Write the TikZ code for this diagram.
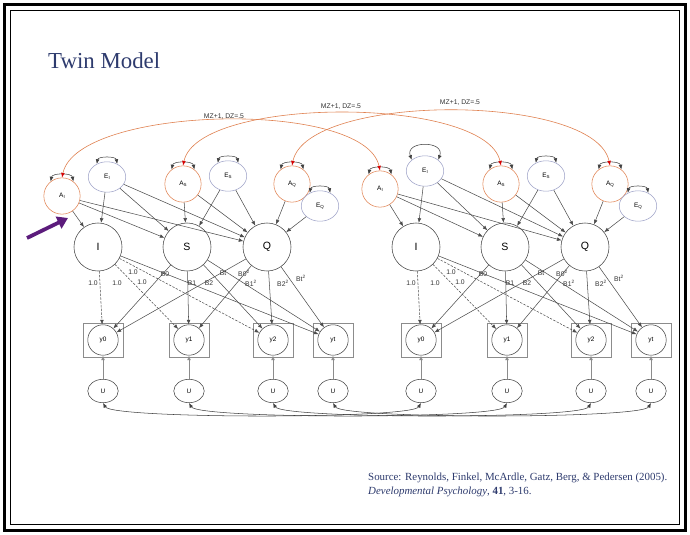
\documentclass[tikz,border=0pt]{standalone}
\usepackage{fontspec}
\setmainfont{Liberation Serif}
\setsansfont{Liberation Sans}
\usetikzlibrary{arrows.meta,shapes.geometric}

\definecolor{aorange}{HTML}{E0804F}
\definecolor{eblue}{HTML}{9EA2C8}
\definecolor{navy}{HTML}{2E3B6E}
\definecolor{pointer}{HTML}{5C1C7C}
\newcommand{\lsub}[1]{\raisebox{-0.35ex}{\fontsize{3.8}{4}\selectfont #1}}

\tikzset{
  >={Latex[length=4pt,width=3.2pt]},
  lbl/.style={font=\sffamily\fontsize{5.8}{6}\selectfont, text=black!80, inner sep=0.5pt},
  acirc/.style={circle, draw=aorange, line width=0.45pt, minimum size=31pt, inner sep=0pt,
    font=\sffamily\fontsize{5.5}{6}\selectfont},
  ecirc/.style={ellipse, draw=eblue, line width=0.45pt, minimum width=32pt, minimum height=26pt,
    inner sep=0pt, font=\sffamily\fontsize{5.5}{6}\selectfont},
  latent/.style={circle, draw=black!75, line width=0.45pt, minimum size=41pt, inner sep=0pt,
    font=\sffamily\fontsize{9}{10}\selectfont},
  obsbox/.style={rectangle, draw=black!45, line width=0.45pt, minimum width=34pt, minimum height=29pt},
  obs/.style={circle, draw=black!75, line width=0.45pt, minimum size=26pt, inner sep=0pt,
    font=\sffamily\fontsize{5.5}{6}\selectfont},
  uerr/.style={ellipse, draw=black!75, line width=0.45pt, minimum width=26pt, minimum height=20pt,
    inner sep=0pt, font=\sffamily\fontsize{5.5}{6}\selectfont},
  regarrow/.style={->, draw=black!70, line width=0.45pt},
  fixload/.style={regarrow, dash pattern=on 2pt off 1.2pt},
  varc/.style={<->, draw=black!75, line width=0.45pt},
  mzdz/.style={draw=aorange, line width=0.5pt,
    {Latex[length=4pt,width=3.2pt,color=red!85!black]}-{Latex[length=4pt,width=3.2pt,color=red!85!black]}},
  src/.style={text=navy, font=\fontsize{9.3}{11}\selectfont, inner sep=0pt}
}

\begin{document}
\begin{tikzpicture}[x=0.03cm,y=0.03cm]
  \useasboundingbox (0,0) rectangle (690,-535);
  \fill[white] (0,0) rectangle (690,-535);
  \draw[line width=3pt] (4.5,-4.5) rectangle (685.5,-530.5);
  \draw[line width=1pt] (10.5,-10.5) rectangle (679.5,-524.5);

  \node[text=navy, font=\fontsize{19.5}{22}\selectfont, anchor=base west, inner sep=0pt]
    (title) at (48,-69) {Twin Model};

  % the two twins
  \foreach \t/\dx/\ay/\ey in {L/0/-196/-177, R/318/-189/-171} {
    \node[acirc] (aI\t) at (\dx+62,\ay) {A\lsub{I}};
    \node[ecirc] (eI\t) at (\dx+107,\ey) {E\lsub{I}};
    \node[acirc] (aS\t) at (\dx+183,-184) {A\lsub{S}};
    \node[ecirc] (eS\t) at (\dx+228,-176) {E\lsub{S}};
    \node[acirc] (aQ\t) at (\dx+292,-184) {A\lsub{Q}};
    \node[ecirc] (eQ\t) at (\dx+320,-206) {E\lsub{Q}};

    \node[latent] (I\t) at (\dx+98,-247) {I};
    \node[latent] (S\t) at (\dx+187,-247) {S};
    \node[latent] (Q\t) at (\dx+267,-247) {Q};

    \foreach \k/\x in {0/103,1/189,2/273,t/333} {
      \node[obsbox] (b\k\t) at (\dx+\x,-340) {};
      \node[obs] (y\k\t) at (\dx+\x,-340) {y\k};
      \node[uerr] (u\k\t) at (\dx+\x,-391) {U};
      \draw[regarrow, draw=black!45] (u\k\t) -- (y\k\t);
    }

    \foreach \s/\d in {aI/I, eI/I, aI/S, eI/S, aS/S, eS/S,
                       aI/Q, eI/Q, aS/Q, eS/Q, aQ/Q, eQ/Q}
      \draw[regarrow] (\s\t) -- (\d\t);

    \foreach \k in {0,1,2}
      \draw[fixload] (I\t) -- (y\k\t);
    \draw[regarrow] (I\t) -- (yt\t);
    \foreach \g in {S,Q}
      \foreach \k in {0,1,2,t}
        \draw[regarrow] (\g\t) -- (y\k\t);

    \foreach \n/\x/\y/\txt in {a/93/-283/1.0, b/117/-283/1.0, c/142/-282/1.0, d/133/-272/1.0,
        e/165/-274/B0, f/192/-283/B1, g/209/-283/B2, h/223/-273/Bt,
        i/244/-273/B0\textsuperscript{2}, j/251/-283/B1\textsuperscript{2},
        k/283/-283/B2\textsuperscript{2}, m/301/-278/Bt\textsuperscript{2}}
      \node[lbl] (lab\n\t) at (\dx+\x,\y) {\txt};
  }

  % variances
  \foreach \n in {aIL,eIL,aSL,eSL,aQL,eQL,aIR,aSR,eSR,aQR,eQR}
    \draw[varc] (\n.128) to[out=80,in=100] (\n.52);
  \draw[varc] (eIR.140) to[out=110,in=70,looseness=2] (eIR.40);

  % twin covariances
  \draw[mzdz] (aIL.north) .. controls +(15,72) and +(-15,72) .. (aIR.north);
  \draw[mzdz] (aSL.north) .. controls +(15,70) and +(-15,70) .. (aSR.north);
  \draw[mzdz] (aQL.north) .. controls +(15,73) and +(-15,73) .. (aQR.north);
  \node[lbl] (mz1) at (224,-117) {MZ+1, DZ=.5};
  \node[lbl] (mz2) at (341,-107) {MZ+1, DZ=.5};
  \node[lbl] (mz3) at (460,-103) {MZ+1, DZ=.5};

  \foreach \k in {0,1,2,t}
    \draw[varc] (u\k L.south) to[out=-60,in=-120,looseness=0.15] (u\k R.south);

  \coordinate (ptail) at (27,-238);
  \coordinate (ptip) at (68,-218);
  \draw[draw=pointer, line width=3.2pt, -{Triangle[length=9pt,width=11pt]}] (ptail) -- (ptip);

  \node[src, anchor=base west] (src1) at (368,-480)
    {Source: Reynolds, Finkel, McArdle, Gatz, Berg, \& Pedersen (2005).};
  \node[src, anchor=base west] (src2) at (368,-494)
    {\textit{Developmental Psychology}, \textbf{41}, 3-16.};
\end{tikzpicture}
\end{document}
